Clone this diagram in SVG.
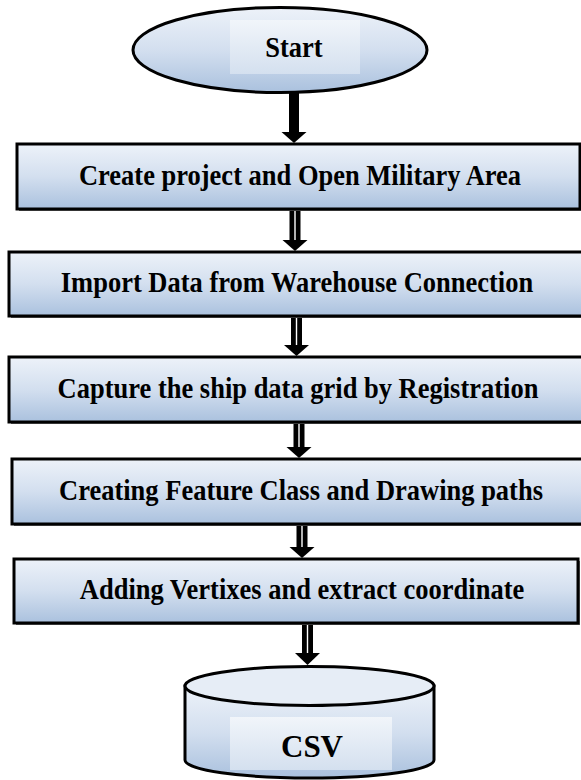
<svg xmlns="http://www.w3.org/2000/svg" width="581" height="780" viewBox="0 0 581 780">
  <defs>
    <linearGradient id="fillBlue" x1="0" y1="0" x2="0" y2="1">
      <stop offset="0" stop-color="#edf2f9"/>
      <stop offset="0.5" stop-color="#d3dfef"/>
      <stop offset="1" stop-color="#aac1de"/>
    </linearGradient>
    <linearGradient id="fillLabel" x1="0" y1="0" x2="0" y2="1">
      <stop offset="0" stop-color="#f1f5fa"/>
      <stop offset="1" stop-color="#d4e0ef"/>
    </linearGradient>
  </defs>
  <style>
    .box { fill: url(#fillBlue); stroke: #000; stroke-width: 3; }
    .shadow { fill: #6b6b6b; }
    .label { font-family: "Liberation Serif", "Times New Roman", serif; font-weight: bold; font-size: 26.5px; fill: #000; text-anchor: middle; }
    .inner { fill: url(#fillLabel); }
    .shaft { fill: #000; }
    .gap { stroke: #fff; stroke-width: 1.4; }
    .tip { fill: #000; }
  </style>

  <rect width="581" height="780" fill="#fff"/>

  <!-- connectors -->
  <g id="connectors">
    <!-- start -> step 1 (solid) -->
    <rect class="shaft" x="289" y="92" width="10" height="41"/>
    <path class="tip" d="M281.5,132 L306.5,132 L294,143 Z"/>
    <!-- step 1 -> step 2 -->
    <rect class="shaft" x="289.5" y="208" width="11" height="33"/>
    <line class="gap" x1="295" y1="209" x2="295" y2="240"/>
    <path class="tip" d="M282.5,240 L307.5,240 L295,251 Z"/>
    <!-- step 2 -> step 3 -->
    <rect class="shaft" x="291" y="316" width="11" height="30"/>
    <line class="gap" x1="296.5" y1="317" x2="296.5" y2="345"/>
    <path class="tip" d="M284,345 L309,345 L296.5,356 Z"/>
    <!-- step 3 -> step 4 -->
    <rect class="shaft" x="293.5" y="422" width="11" height="26"/>
    <line class="gap" x1="299" y1="423" x2="299" y2="447"/>
    <path class="tip" d="M286.5,447 L311.5,447 L299,458 Z"/>
    <!-- step 4 -> step 5 -->
    <rect class="shaft" x="296.5" y="524" width="11" height="24"/>
    <line class="gap" x1="302" y1="525" x2="302" y2="547"/>
    <path class="tip" d="M289.5,547 L314.5,547 L302,558 Z"/>
    <!-- step 5 -> csv -->
    <rect class="shaft" x="302" y="623" width="11" height="31"/>
    <line class="gap" x1="307.5" y1="624" x2="307.5" y2="653"/>
    <path class="tip" d="M295,653 L320,653 L307.5,665 Z"/>
  </g>

  <g id="start">
    <ellipse cx="280" cy="50" rx="147" ry="42.5" fill="url(#fillBlue)" stroke="#000" stroke-width="3"/>
    <rect class="inner" x="230" y="20" width="130" height="54"/>
    <text class="label" transform="translate(294,57) scale(1,1.12)">Start</text>
  </g>

  <g id="step1">
    <rect class="shadow" x="19" y="146" width="563" height="65"/>
    <rect class="box" x="17" y="144" width="563" height="65"/>
    <text class="label" transform="translate(300,185) scale(1,1.12)">Create project and Open Military Area</text>
  </g>

  <g id="step2">
    <rect class="shadow" x="11" y="254" width="580" height="64"/>
    <rect class="box" x="9" y="252" width="580" height="64"/>
    <text class="label" transform="translate(297,292) scale(1,1.12)">Import Data from Warehouse Connection</text>
  </g>

  <g id="step3">
    <rect class="shadow" x="11" y="359" width="580" height="65"/>
    <rect class="box" x="9" y="357" width="580" height="65"/>
    <text class="label" transform="translate(298,398) scale(1,1.12)">Capture the ship data grid by Registration</text>
  </g>

  <g id="step4">
    <rect class="shadow" x="14" y="461" width="580" height="65"/>
    <rect class="box" x="12" y="459" width="580" height="65"/>
    <text class="label" transform="translate(301,500) scale(1,1.12)">Creating Feature Class and Drawing paths</text>
  </g>

  <g id="step5">
    <rect class="shadow" x="16" y="561" width="564" height="64"/>
    <rect class="box" x="14" y="559" width="564" height="64"/>
    <text class="label" transform="translate(302,599) scale(1,1.12)">Adding Vertixes and extract coordinate</text>
  </g>

  <g id="csv">
    <path d="M185,686 L185,760 A124.5,18 0 0 0 434,760 L434,686 Z" fill="url(#fillBlue)" stroke="#000" stroke-width="3"/>
    <ellipse cx="309.5" cy="686" rx="124.5" ry="19.5" fill="#e6edf6" stroke="#000" stroke-width="3"/>
    <rect class="inner" x="230" y="717" width="162" height="53"/>
    <text class="label" transform="translate(312,757) scale(1,1.05)" style="font-size:31px">CSV</text>
  </g>
</svg>
